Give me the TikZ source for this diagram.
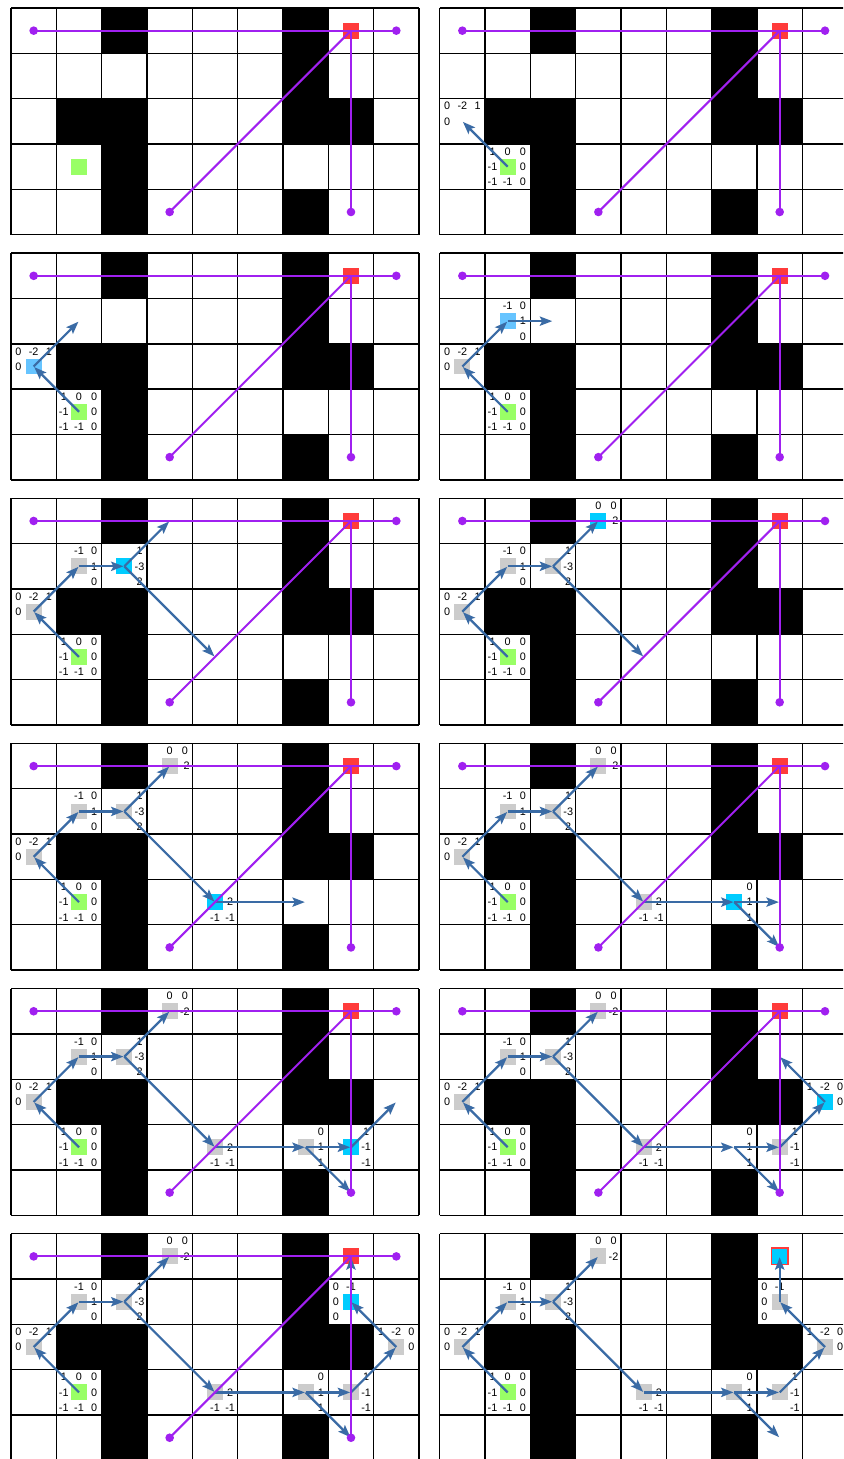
\documentclass[tikz,border=0pt]{standalone}
\usepackage{fontspec}
\setmainfont{Liberation Sans}
\usetikzlibrary{arrows.meta}

\definecolor{routec}{HTML}{A020F0}
\definecolor{flowc}{HTML}{3A6BA5}
\definecolor{goalc}{HTML}{FF3B3B}
\definecolor{startc}{HTML}{99FF66}
\definecolor{visitc}{HTML}{CCCCCC}
\definecolor{curc}{HTML}{00CCFF}
\definecolor{firstc}{HTML}{66C4FF}

% scores round a cell: dx/dy/value
\newcommand\cellnums[2]{%
  \foreach \dx/\dy/\v in {#2}
    \node[num] (#1\dx\dy) at ([shift={(0.335*\dx,0.335*\dy)}]#1) {\v};}
% square of a cell: current at panel #2, grey after it
\newcommand\cellsq[3]{%
  \ifnum\p=#2 \node[sq,fill=#3] (s#1) at (#1) {};\fi
  \ifnum\p>#2 \node[sq,fill=visitc] (s#1) at (#1) {};\fi}

\begin{document}
\begin{tikzpicture}[x=1cm,y=-1cm,
  >={Stealth[length=7.8pt,width=5.8pt,inset=1.5pt]},
  wall/.style={fill=black},
  gridline/.style={line width=0.9pt,black},
  num/.style={inner sep=0pt,font=\fontsize{6.8}{7}\selectfont},
  sq/.style={minimum size=0.35cm,inner sep=0pt,draw=none},
  flow/.style={->,line width=1.4pt,flowc,shorten >=0.5pt},
  route/.style={line width=1.25pt,routec},
  dot/.style={circle,fill=routec,minimum size=0.19cm,inner sep=0pt}]
  \clip (0,0) rectangle (18.597,32.186);
  \fill[white] (0,0) rectangle (18.597,32.186);
  \foreach \p in {1,...,12}{
    \pgfmathsetmacro\px{0.2427+mod(\p-1,2)*9.4573}
    \pgfmathsetmacro\py{0.1765+floor((\p-1)/2)*5.408}
    \begin{scope}[shift={(\px,\py)}]
      % board
      \foreach \c/\r in {2/0,6/0,6/1,1/2,2/2,6/2,7/2,2/3,2/4,6/4}
        \fill[wall] (\c,\r) rectangle +(1,1);
      \draw[gridline] (0,0) grid (9,5);
      % cell centres
      \coordinate (A) at (1.5,3.5);
      \coordinate (B) at (0.5,2.5);
      \coordinate (C) at (1.5,1.5);
      \coordinate (D) at (2.5,1.5);
      \coordinate (E) at (3.5,0.5);
      \coordinate (F) at (4.5,3.5);
      \coordinate (G) at (6.5,3.5);
      \coordinate (H) at (7.5,3.5);
      \coordinate (I) at (8.5,2.5);
      \coordinate (J) at (7.5,1.5);
      \coordinate (K) at (7.5,0.5);
      \coordinate (west) at (0.5,0.5);
      \coordinate (east) at (8.5,0.5);
      \coordinate (low) at (3.5,4.5);
      \coordinate (sink) at (7.5,4.5);
      % scores
      \ifnum\p>1
        \cellnums{A}{-1/-1/1,0/-1/0,1/-1/0,-1/0/-1,1/0/0,-1/1/-1,0/1/-1,1/1/0}
        \cellnums{B}{-1/-1/0,0/-1/-2,1/-1/1,-1/0/0}
      \fi
      \ifnum\p>3 \cellnums{C}{0/-1/-1,1/-1/0,1/0/1,1/1/0}\fi
      \ifnum\p>4 \cellnums{D}{1/-1/1,1/0/-3,1/1/2}\fi
      \ifnum\p>5 \cellnums{E}{0/-1/0,1/-1/0,1/0/-2}\fi
      \ifnum\p>6 \cellnums{F}{1/0/2,0/1/-1,1/1/-1}\fi
      \ifnum\p>7 \cellnums{G}{1/-1/0,1/0/1,1/1/1}\fi
      \ifnum\p>8 \cellnums{H}{1/-1/1,1/0/-1,1/1/-1}\fi
      \ifnum\p>9 \cellnums{I}{-1/-1/1,0/-1/-2,1/-1/0,1/0/0}\fi
      \ifnum\p>10 \cellnums{J}{-1/-1/0,0/-1/-1,-1/0/0,-1/1/0}\fi
      % squares
      \node[sq,fill=startc] (sA) at (A) {};
      \cellsq{B}{3}{firstc}
      \cellsq{C}{4}{firstc}
      \cellsq{D}{5}{curc}
      \cellsq{E}{6}{curc}
      \cellsq{F}{7}{curc}
      \ifnum\p=10 \else \cellsq{G}{8}{curc}\fi
      \cellsq{H}{9}{curc}
      \cellsq{I}{10}{curc}
      \cellsq{J}{11}{curc}
      \ifnum\p<12
        \node[sq,fill=goalc] (sK) at (K) {};
      \else
        \node[sq,fill=curc,draw=goalc,line width=1.1pt,minimum size=0.36cm] (sK) at (K) {};
      \fi
      % search steps
      \ifnum\p>1 \draw[flow] (A) -- (B);\fi
      \ifnum\p>2 \draw[flow] (B) -- (C);\fi
      \ifnum\p>3 \draw[flow] (C) -- (D);\fi
      \ifnum\p>4 \draw[flow] (D) -- (E); \draw[flow] (D) -- (F);\fi
      \ifnum\p>6 \draw[flow] (F) -- (G);\fi
      \ifnum\p>7 \draw[flow] (G) -- (H); \draw[flow] (G) -- (sink);\fi
      \ifnum\p>8 \draw[flow] (H) -- (I);\fi
      \ifnum\p>9 \draw[flow] (I) -- (J);\fi
      \ifnum\p>10 \draw[flow] (J) -- (K);\fi
      % routes to the goal
      \ifnum\p<12
        \draw[route] (west) -- (east);
        \draw[route] (K) -- (low);
        \draw[route] (K) -- (sink);
        \node[dot] (dwest) at (west) {};
        \node[dot] (deast) at (east) {};
        \node[dot] (dlow) at (low) {};
        \node[dot] (dsink) at (sink) {};
      \fi
    \end{scope}}
\end{tikzpicture}
\end{document}
